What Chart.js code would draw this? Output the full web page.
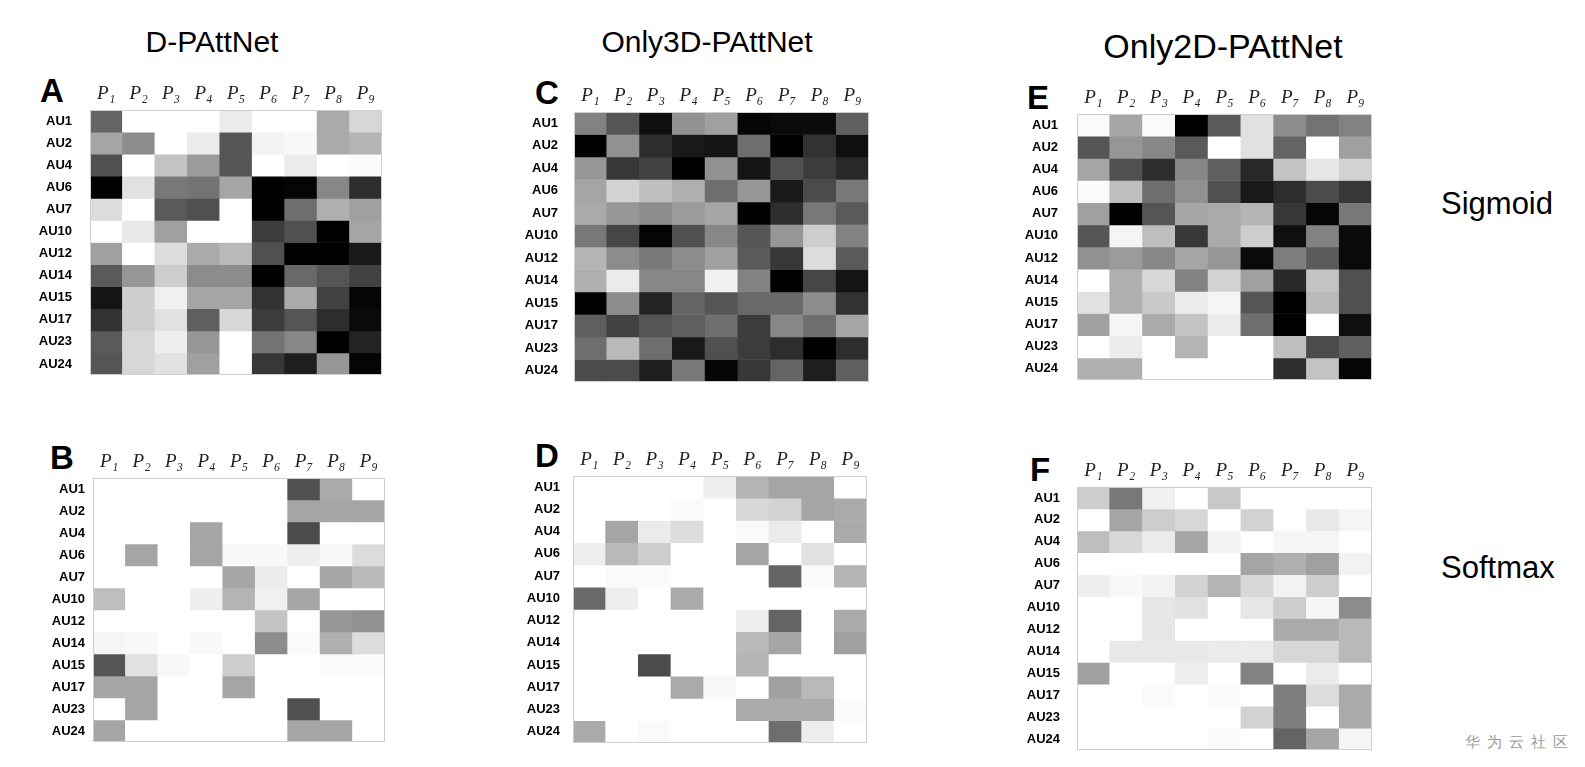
<!DOCTYPE html>
<html>
<head>
<meta charset="utf-8">
<script src="https://cdn.jsdelivr.net/npm/chart.js@4.4.1/dist/chart.umd.min.js"></script>
<style>
  body { margin: 0; background: #fff; width: 1585px; height: 767px; position: relative; overflow: hidden; font-family: "Liberation Sans", Arial, sans-serif; }
  .abs { position: absolute; line-height: 1; color: #000; white-space: nowrap; }
  .title { width: 400px; text-align: center; font-size: 30px; }
  .letter { font-size: 33px; font-weight: bold; }
  .side { font-size: 31px; }
  .mark { font-size: 15px; color: #9a9a9a; letter-spacing: 7px; }
  canvas { position: absolute; }
</style>
</head>
<body>

<div class="abs title" style="left:12px; top:27px;">D-PAttNet</div>
<div class="abs title" style="left:507px; top:27px;">Only3D-PAttNet</div>
<div class="abs title" style="left:1023px; top:29px; font-size:34px;">Only2D-PAttNet</div>

<div class="abs side" style="left:1441px; top:188px;">Sigmoid</div>
<div class="abs side" style="left:1441px; top:552px;">Softmax</div>
<div class="abs mark" style="left:1465px; top:734px;">华为云社区</div>

<script>
// rows = action units, columns = patches
const rows = ['AU1', 'AU2', 'AU4', 'AU6', 'AU7', 'AU10', 'AU12', 'AU14', 'AU15', 'AU17', 'AU23', 'AU24'];
const cols = ['P₁', 'P₂', 'P₃', 'P₄', 'P₅', 'P₆', 'P₇', 'P₈', 'P₉'];

// cell shade (0 = black, 255 = white)
const dpattSigmoid = [
  [100, 255, 255, 255, 235, 255, 255, 170, 215],
  [165, 140, 255, 235,  85, 242, 248, 170, 180],
  [ 80, 255, 195, 155,  85, 255, 235, 255, 250],
  [  0, 225, 120, 115, 165,   0,   5, 135,  45],
  [220, 255,  90,  80, 255,   0, 110, 175, 160],
  [255, 232, 160, 255, 255,  60,  80,   0, 165],
  [160, 255, 220, 170, 185,  80,   0,   0,  25],
  [ 90, 150, 205, 140, 140,   0, 105,  85,  65],
  [ 20, 205, 240, 165, 165,  50, 170,  65,   5],
  [ 50, 205, 225,  95, 215,  60,  85,  45,  10],
  [ 90, 215, 238, 150, 255, 115, 135,   0,  35],
  [ 85, 215, 225, 160, 255,  55,  30, 150,   5]
];
const dpattSoftmax = [
  [255, 255, 255, 255, 255, 255,  80, 170, 255],
  [255, 255, 255, 255, 255, 255, 165, 165, 165],
  [255, 255, 255, 165, 255, 255,  75, 255, 255],
  [255, 165, 255, 165, 248, 248, 238, 248, 220],
  [255, 255, 255, 255, 165, 235, 255, 165, 185],
  [190, 255, 255, 238, 180, 240, 165, 255, 255],
  [255, 255, 255, 255, 255, 195, 255, 150, 145],
  [245, 248, 255, 248, 255, 140, 250, 175, 220],
  [ 85, 225, 248, 255, 205, 255, 255, 250, 250],
  [165, 165, 255, 255, 165, 255, 255, 255, 255],
  [255, 165, 255, 255, 255, 255,  80, 255, 255],
  [165, 255, 255, 255, 255, 255, 165, 165, 255]
];
const only3dSigmoid = [
  [130,  85,  15, 145, 160,   5,  10,  10,  95],
  [  0, 145,  45,  25,  20, 110,   0,  50,  15],
  [150,  55,  65,   0, 145,  20,  80,  60,  40],
  [165, 210, 190, 175, 110, 150,  25,  75, 120],
  [170, 150, 140, 155, 165,   0,  45, 120,  90],
  [120,  70,   5,  80, 135,  85, 150, 205, 130],
  [180, 140, 120, 140, 160,  90,  55, 220,  90],
  [175, 235, 135, 135, 240, 130,   0,  70,  20],
  [  0, 140,  35, 100,  85, 105, 105, 140,  50],
  [ 95,  65,  85,  95, 110,  60, 135, 110, 165],
  [110, 185, 110,  25,  80,  60,  45,   0,  45],
  [ 75,  75,  30, 120,   5,  55, 100,  30,  95]
];
const only3dSoftmax = [
  [255, 255, 255, 255, 238, 180, 165, 165, 255],
  [255, 255, 255, 250, 255, 215, 210, 165, 170],
  [255, 165, 235, 220, 255, 250, 235, 255, 170],
  [238, 185, 205, 255, 255, 165, 255, 225, 255],
  [255, 250, 250, 255, 255, 255, 100, 250, 180],
  [105, 238, 255, 170, 255, 255, 255, 255, 255],
  [255, 255, 255, 255, 255, 238, 100, 255, 170],
  [255, 255, 255, 255, 255, 185, 165, 255, 160],
  [255, 255,  75, 255, 255, 180, 255, 255, 255],
  [255, 255, 255, 170, 248, 255, 160, 185, 255],
  [255, 255, 255, 255, 255, 170, 170, 170, 250],
  [170, 255, 250, 255, 255, 255, 110, 238, 255]
];
const only2dSigmoid = [
  [250, 165, 250,   0,  90, 225, 140, 115, 130],
  [ 85, 150, 135,  90, 255, 225, 100, 255, 160],
  [165,  80,  45, 135,  95,  40, 195, 230, 210],
  [250, 190, 110, 145,  80,  25,  45,  75,  55],
  [160,   0,  85, 165, 170, 180,  55,   5, 120],
  [ 85, 245, 190,  55, 170, 205,  15, 130,  10],
  [145, 155, 135, 165, 150,  10, 125,  90,  10],
  [255, 175, 215, 130, 210, 160,  40, 195,  80],
  [225, 175, 200, 235, 245,  85,   0, 185,  80],
  [160, 245, 170, 195, 235, 110,   0, 255,  15],
  [255, 235, 255, 180, 255, 255, 190,  75,  95],
  [175, 175, 255, 255, 255, 255,  45, 195,   5]
];
const only2dSoftmax = [
  [205, 120, 240, 255, 200, 255, 255, 255, 255],
  [255, 165, 205, 215, 255, 210, 255, 232, 245],
  [190, 215, 235, 165, 242, 255, 245, 245, 255],
  [255, 255, 255, 255, 255, 165, 175, 160, 242],
  [238, 248, 242, 210, 180, 215, 242, 205, 255],
  [255, 255, 230, 225, 255, 230, 205, 245, 140],
  [255, 255, 230, 255, 255, 255, 170, 170, 185],
  [255, 232, 232, 232, 235, 235, 215, 215, 185],
  [160, 255, 255, 238, 255, 130, 255, 235, 255],
  [255, 255, 250, 255, 250, 255, 125, 220, 170],
  [255, 255, 255, 255, 255, 210, 125, 255, 170],
  [255, 255, 255, 255, 250, 255, 100, 165, 245]
];

const AXIS_W = 70;
const AXIS_H = 40;

// grid box of each panel on the page
const panels = [
  { tag: 'A', grid: dpattSigmoid,  left: 90,   top: 110, w: 292, h: 265, gap: 18, lx: 40,   ly: 74 },
  { tag: 'B', grid: dpattSoftmax,  left: 93,   top: 478, w: 292, h: 264, gap: 8,  lx: 50,   ly: 441 },
  { tag: 'C', grid: only3dSigmoid, left: 574,  top: 112, w: 295, h: 270, gap: 16, lx: 535,  ly: 76 },
  { tag: 'D', grid: only3dSoftmax, left: 573,  top: 476, w: 294, h: 267, gap: 13, lx: 535,  ly: 439 },
  { tag: 'E', grid: only2dSigmoid, left: 1077, top: 114, w: 295, h: 266, gap: 19, lx: 1027, ly: 81 },
  { tag: 'F', grid: only2dSoftmax, left: 1077, top: 487, w: 295, h: 263, gap: 17, lx: 1030, ly: 453 }
];

const frame = {
  id: 'frame',
  afterDatasetsDraw(chart) {
    const a = chart.chartArea;
    const ctx = chart.ctx;
    ctx.save();
    ctx.strokeStyle = '#cfcfcf';
    ctx.lineWidth = 1;
    ctx.strokeRect(a.left + 0.5, a.top + 0.5, a.right - a.left - 1, a.bottom - a.top - 1);
    ctx.restore();
  }
};

panels.forEach(function (p) {
  const letter = document.createElement('div');
  letter.className = 'abs letter';
  letter.style.left = p.lx + 'px';
  letter.style.top = p.ly + 'px';
  letter.textContent = p.tag;
  document.body.appendChild(letter);

  const canvas = document.createElement('canvas');
  canvas.width = AXIS_W + p.w;
  canvas.height = AXIS_H + p.h;
  canvas.style.left = (p.left - AXIS_W) + 'px';
  canvas.style.top = (p.top - AXIS_H) + 'px';
  document.body.appendChild(canvas);

  new Chart(canvas, {
    type: 'bar',
    data: {
      labels: cols,
      datasets: rows.map((r, i) => ({
        label: r,
        data: cols.map(() => 1),
        backgroundColor: p.grid[i].map(v => 'rgb(' + v + ',' + v + ',' + v + ')'),
        borderWidth: 0,
        barPercentage: 1,
        categoryPercentage: 1
      }))
    },
    options: {
      responsive: false,
      animation: false,
      events: [],
      layout: { padding: 0 },
      plugins: { legend: { display: false }, tooltip: { enabled: false } },
      scales: {
        x: {
          position: 'top',
          stacked: true,
          grid: { display: false, drawTicks: false },
          border: { display: false },
          ticks: {
            padding: 5,
            color: '#222',
            font: { family: "'Liberation Serif', 'DejaVu Serif', serif", style: 'italic', size: 19 }
          },
          afterFit: s => { s.height = AXIS_H; s.paddingLeft = 0; s.paddingRight = 0; }
        },
        y: {
          stacked: true,
          reverse: true,
          min: 0,
          max: rows.length,
          grid: { display: false, drawTicks: false },
          border: { display: false },
          afterBuildTicks: s => { s.ticks = rows.map((r, i) => ({ value: i + 0.5 })); },
          ticks: {
            autoSkip: false,
            padding: p.gap,
            color: '#000',
            callback: (v, i) => rows[i],
            font: { family: "'Liberation Sans', Arial, sans-serif", weight: 'bold', size: 13 }
          },
          afterFit: s => { s.width = AXIS_W; s.paddingTop = 0; s.paddingBottom = 0; }
        }
      }
    },
    plugins: [frame]
  });
});
</script>
</body>
</html>
